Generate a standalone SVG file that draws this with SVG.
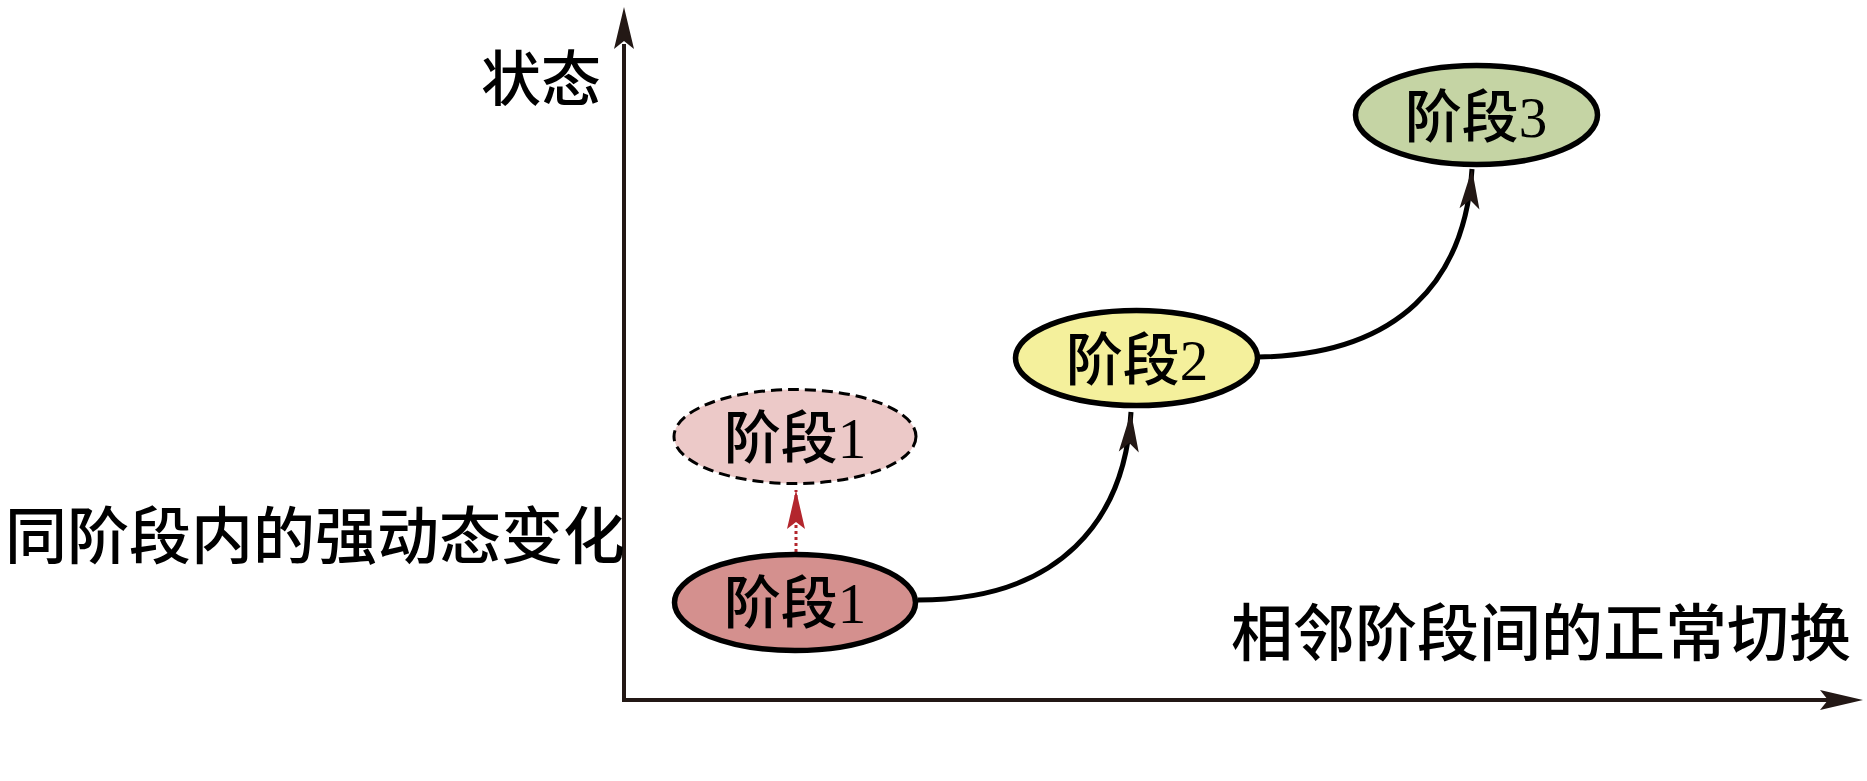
<svg xmlns="http://www.w3.org/2000/svg" width="1867" height="781" viewBox="0 0 1867 781">
  <style>
    .lbl { font-family: "Liberation Serif", "Noto Sans CJK SC", serif; fill: #000; font-weight: 500; }
    .node-text { font-size: 57px; text-anchor: middle; }
    .side-text { font-size: 62px; }
    .node { stroke: #000; stroke-width: 5.5; }
    .axis { stroke: #231815; stroke-width: 4; fill: none; }
    .conn { stroke: #000; stroke-width: 5; fill: none; }
  </style>
  <defs>
    <marker id="ah" markerUnits="userSpaceOnUse" markerWidth="46" markerHeight="26" refX="42" refY="13" orient="auto" viewBox="0 0 46 26">
      <path d="M42,13 L2,3 L11,13 L2,23 Z" fill="#231815"/>
    </marker>
    <marker id="ahr" markerUnits="userSpaceOnUse" markerWidth="46" markerHeight="26" refX="42" refY="13" orient="auto" viewBox="0 0 46 26">
      <path d="M42,13 L3,4 L10,13 L3,22 Z" fill="#b3262d"/>
    </marker>
  </defs>

  <g id="axes">
    <line class="axis" x1="624" y1="702" x2="624" y2="44"/>
    <path d="M624,7 L614,49 L624,41 L634,49 Z" fill="#231815"/>
    <line class="axis" x1="622" y1="700" x2="1828" y2="700"/>
    <path d="M1863,700 L1820,690 L1828,700 L1820,710 Z" fill="#231815"/>
  </g>

  <g id="connectors">
    <path class="conn" d="M918,600 C1060,600 1125,520 1131,412" marker-end="url(#ah)"/>
    <path class="conn" d="M1258,357 C1400,355 1465,280 1472,169" marker-end="url(#ah)"/>
    <line x1="796" y1="552" x2="796" y2="490" stroke="#b3262d" stroke-width="3" stroke-dasharray="3 3" marker-end="url(#ahr)"/>
  </g>

  <g id="node-stage1-dashed">
    <ellipse cx="795" cy="436.5" rx="121" ry="47" fill="#ecc9c8" stroke="#000" stroke-width="3" stroke-dasharray="11 6"/>
    <text class="lbl node-text" x="795" y="458">阶段1</text>
  </g>

  <g id="node-stage1">
    <ellipse class="node" cx="795" cy="602.5" rx="120.5" ry="48" fill="#d4908e"/>
    <text class="lbl node-text" x="795" y="623">阶段1</text>
  </g>

  <g id="node-stage2">
    <ellipse class="node" cx="1136.5" cy="358" rx="121" ry="47.5" fill="#f4f09c"/>
    <text class="lbl node-text" x="1137" y="380">阶段2</text>
  </g>

  <g id="node-stage3">
    <ellipse class="node" cx="1476.5" cy="115" rx="121" ry="49.5" fill="#c5d4a4"/>
    <text class="lbl node-text" x="1476" y="137">阶段3</text>
  </g>

  <g id="labels">
    <text class="lbl" x="481" y="101" font-size="60">状态</text>
    <text class="lbl side-text" x="5" y="559">同阶段内的强动态变化</text>
    <text class="lbl side-text" x="1231" y="656">相邻阶段间的正常切换</text>
  </g>
</svg>
